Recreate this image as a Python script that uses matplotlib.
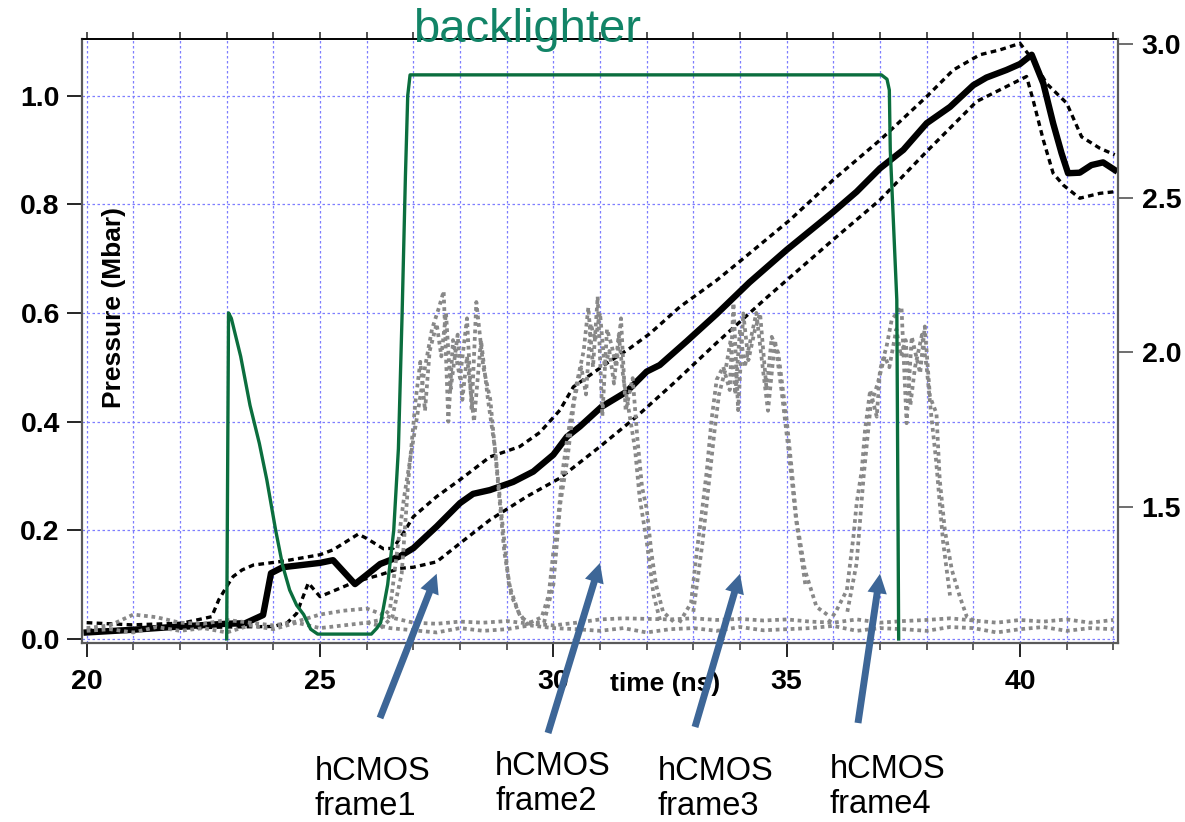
import matplotlib
matplotlib.use("Agg")
import matplotlib.pyplot as plt
from matplotlib.ticker import MultipleLocator, FixedLocator, FormatStrFormatter, NullFormatter

plt.rcParams['font.family'] = ['Liberation Sans', 'DejaVu Sans']

# ---------------- data ----------------
# pressure history (Mbar) vs time (ns)
p_time = [20.0, 21.0, 22.0, 23.0, 23.4, 23.78, 23.95, 24.2, 25.0, 25.28, 25.75, 26.0,
          26.29, 26.71, 27.0, 27.5, 28.0, 28.28, 28.64, 29.14, 29.57, 30.0, 30.29,
          30.57, 31.03, 31.57, 32.0, 32.28, 32.86, 33.5, 34.2, 35.0, 36.0, 36.5,
          37.0, 37.5, 38.0, 38.5, 39.0, 39.28, 39.71, 40.0, 40.25, 40.5, 40.71,
          40.89, 41.03, 41.28, 41.53, 41.78, 42.03]
p_mean = [0.012, 0.017, 0.023, 0.028, 0.029, 0.044, 0.121, 0.132, 0.140, 0.145, 0.101, 0.118,
          0.138, 0.152, 0.167, 0.207, 0.250, 0.267, 0.274, 0.289, 0.308, 0.339, 0.372,
          0.391, 0.427, 0.455, 0.492, 0.504, 0.548, 0.598, 0.656, 0.716, 0.786, 0.823,
          0.866, 0.900, 0.949, 0.979, 1.019, 1.033, 1.047, 1.058, 1.075, 1.022, 0.949,
          0.894, 0.857, 0.858, 0.872, 0.877, 0.863]

up_time = [20.0, 20.97, 22.04, 22.68, 22.83, 23.04, 23.14, 23.33, 23.57, 24.2, 25.0, 25.28,
           25.82, 26.0, 26.36, 26.57, 26.78, 27.0, 27.5, 28.0, 28.64, 29.28, 29.71,
           30.14, 30.43, 31.14, 31.64, 32.07, 32.71, 33.5, 34.07, 35.07, 36.0, 37.0,
           38.0, 38.57, 39.14, 39.57, 40.0, 40.28, 40.57, 41.0, 41.32, 41.71, 42.03]
p_upper = [0.030, 0.026, 0.029, 0.041, 0.072, 0.102, 0.115, 0.127, 0.136, 0.143, 0.155, 0.164,
           0.193, 0.185, 0.166, 0.167, 0.194, 0.225, 0.262, 0.293, 0.335, 0.354, 0.380,
           0.421, 0.464, 0.507, 0.535, 0.562, 0.611, 0.660, 0.700, 0.771, 0.845, 0.918,
           0.998, 1.047, 1.075, 1.084, 1.096, 1.065, 1.022, 0.986, 0.924, 0.903, 0.891]

lo_time = [20.0, 21.0, 22.0, 23.0, 24.0, 24.3, 24.5, 24.75, 25.0, 25.75, 26.29, 26.71,
           27.0, 27.5, 28.0, 28.64, 29.43, 30.14, 31.0, 31.78, 32.57, 33.5, 34.57,
           36.0, 37.0, 38.0, 39.07, 40.14, 40.28, 40.5, 40.71, 40.93, 41.28, 41.71, 42.03]
p_lower = [0.016, 0.018, 0.020, 0.022, 0.023, 0.030, 0.047, 0.103, 0.078, 0.105, 0.118, 0.130,
           0.132, 0.142, 0.176, 0.219, 0.262, 0.296, 0.354, 0.409, 0.470, 0.545, 0.628,
           0.735, 0.808, 0.897, 0.989, 1.035, 0.992, 0.918, 0.857, 0.835, 0.811, 0.820, 0.823]

# backlighter pulse
bl_time = [23.0, 23.04, 23.1, 23.3, 23.5, 23.7, 23.86, 24.05, 24.2, 24.35, 24.5, 24.65,
           24.8, 24.95, 26.1, 26.22, 26.3, 26.45, 26.58, 26.68, 26.76, 26.83, 26.88,
           26.93, 37.03, 37.15, 37.2, 37.22, 37.36, 37.4]
bl_level = [0.0, 0.60, 0.59, 0.52, 0.43, 0.36, 0.293, 0.20, 0.135, 0.090, 0.062, 0.045,
            0.018, 0.009, 0.009, 0.02, 0.03, 0.10, 0.20, 0.35, 0.60, 0.85, 1.0,
            1.038, 1.038, 1.030, 1.010, 0.90, 0.624, 0.0]

# hCMOS frame signals
f1a_t = [26.0, 26.3, 26.5, 26.65, 26.8, 26.95, 27.1, 27.25, 27.4, 27.55, 27.65, 27.75, 27.85,
         28.0, 28.15, 28.25, 28.35, 28.5, 28.65, 28.8, 28.95, 29.1, 29.3, 29.5, 29.8]
f1a_v = [0.03, 0.035, 0.055, 0.16, 0.26, 0.34, 0.42, 0.50, 0.57, 0.61, 0.64, 0.40, 0.55,
         0.48, 0.59, 0.42, 0.62, 0.50, 0.44, 0.30, 0.16, 0.08, 0.04, 0.03, 0.03]
f1b_t = [26.3, 26.55, 26.75, 26.9, 27.05, 27.15, 27.25, 27.35, 27.5, 27.6, 27.7, 27.8, 27.95,
         28.05, 28.15, 28.3, 28.45, 28.6, 28.75, 28.9, 29.05, 29.25, 29.5]
f1b_v = [0.02, 0.04, 0.12, 0.30, 0.44, 0.51, 0.42, 0.53, 0.58, 0.52, 0.60, 0.46, 0.56,
         0.44, 0.52, 0.40, 0.55, 0.44, 0.35, 0.22, 0.10, 0.05, 0.02]

f2a_t = [29.5, 29.75, 29.9, 30.0, 30.1, 30.2, 30.3, 30.4, 30.5, 30.65, 30.75, 30.85, 30.95,
         31.05, 31.15, 31.25, 31.35, 31.45, 31.55, 31.7, 31.8, 31.9, 32.0, 32.1, 32.2,
         32.35, 32.6]
f2a_v = [0.03, 0.04, 0.08, 0.16, 0.22, 0.31, 0.37, 0.42, 0.47, 0.53, 0.61, 0.50, 0.63,
         0.41, 0.57, 0.54, 0.50, 0.59, 0.42, 0.48, 0.37, 0.28, 0.24, 0.16, 0.10,
         0.05, 0.03]
f2b_t = [29.8, 30.0, 30.15, 30.3, 30.45, 30.6, 30.7, 30.8, 30.9, 31.0, 31.1, 31.2, 31.3,
         31.4, 31.5, 31.6, 31.75, 31.85, 32.0, 32.15, 32.3]
f2b_v = [0.03, 0.10, 0.25, 0.33, 0.44, 0.50, 0.45, 0.58, 0.55, 0.60, 0.50, 0.53, 0.47,
         0.56, 0.48, 0.43, 0.35, 0.26, 0.18, 0.08, 0.03]

f3a_t = [32.7, 32.95, 33.07, 33.18, 33.29, 33.39, 33.5, 33.64, 33.78, 33.86, 33.96, 34.07,
         34.18, 34.32, 34.43, 34.57, 34.68, 34.82, 35.0, 35.11, 35.21, 35.39, 35.64, 35.93]
f3a_v = [0.03, 0.066, 0.158, 0.231, 0.311, 0.403, 0.477, 0.501, 0.458, 0.618, 0.421, 0.599,
         0.513, 0.569, 0.599, 0.458, 0.556, 0.526, 0.403, 0.311, 0.219, 0.127, 0.059, 0.041]
f3b_t = [33.0, 33.2, 33.35, 33.45, 33.55, 33.7, 33.8, 33.9, 34.0, 34.1, 34.2, 34.35, 34.5,
         34.6, 34.75, 34.9, 35.05, 35.2, 35.4]
f3b_v = [0.05, 0.18, 0.30, 0.38, 0.45, 0.50, 0.55, 0.45, 0.57, 0.50, 0.54, 0.60, 0.49,
         0.42, 0.55, 0.45, 0.34, 0.22, 0.10]

f4a_t = [35.9, 36.07, 36.29, 36.43, 36.5, 36.61, 36.68, 36.79, 36.93, 37.0, 37.14, 37.25,
         37.46, 37.57, 37.68, 37.86, 37.96, 38.07, 38.21, 38.28, 38.39, 38.54, 38.71,
         38.86, 39.1]
f4a_v = [0.03, 0.053, 0.09, 0.188, 0.25, 0.311, 0.385, 0.458, 0.409, 0.495, 0.538, 0.587,
         0.611, 0.397, 0.556, 0.489, 0.575, 0.446, 0.415, 0.293, 0.20, 0.127, 0.078,
         0.041, 0.03]
f4b_t = [36.3, 36.5, 36.65, 36.8, 36.95, 37.1, 37.2, 37.35, 37.45, 37.55, 37.65, 37.75,
         37.9, 38.0, 38.1, 38.2, 38.35, 38.5]
f4b_v = [0.05, 0.14, 0.30, 0.43, 0.47, 0.52, 0.50, 0.57, 0.52, 0.55, 0.43, 0.50,
         0.56, 0.50, 0.41, 0.33, 0.18, 0.08]

# background level of the frame signals
bg_time = [20.0, 20.5, 21.0, 21.5, 22.0, 22.5, 23.0, 23.5, 24.0, 24.5, 25.0, 25.5, 26.0,
           26.5, 27.0, 27.5, 28.0, 28.5, 29.0, 29.5, 30.0, 30.5, 31.0, 31.5, 32.0, 32.5,
           33.0, 33.5, 34.0, 34.5, 35.0, 35.5, 36.0, 36.5, 37.0, 37.5, 38.0, 38.5, 39.0,
           39.5, 40.0, 40.5, 41.0, 41.5, 42.0]
bg_a = [0.020, 0.025, 0.045, 0.040, 0.030, 0.028, 0.035, 0.030, 0.025, 0.032, 0.045, 0.052,
        0.056, 0.040, 0.030, 0.028, 0.032, 0.030, 0.033, 0.028, 0.025, 0.030, 0.036, 0.038,
        0.037, 0.036, 0.038, 0.035, 0.037, 0.034, 0.036, 0.032, 0.030, 0.036, 0.030, 0.033,
        0.035, 0.038, 0.034, 0.030, 0.035, 0.032, 0.036, 0.030, 0.035]
bg_b = [0.015, 0.018, 0.012, 0.022, 0.015, 0.020, 0.012, 0.025, 0.018, 0.030, 0.020, 0.025,
        0.030, 0.020, 0.016, 0.012, 0.020, 0.015, 0.018, 0.025, 0.020, 0.018, 0.015, 0.020,
        0.012, 0.018, 0.020, 0.015, 0.022, 0.016, 0.018, 0.020, 0.024, 0.015, 0.020, 0.018,
        0.015, 0.022, 0.020, 0.012, 0.018, 0.022, 0.015, 0.020, 0.018]

# camera frame timing (ns) and arrow tip heights
frame_times = [27.5, 31.0, 34.0, 37.0]
frame_tip_levels = [0.12, 0.14, 0.12, 0.12]
frame_names = ["frame1", "frame2", "frame3", "frame4"]

left_ticks = [0.0, 0.2, 0.4, 0.6, 0.8, 1.0]
right_ticks = [1.5, 2.0, 2.5, 3.0]
time_ticks = [20, 25, 30, 35, 40]

# ---------------- figure ----------------
W, H = 1185, 822
fig = plt.figure(figsize=(W / 100, H / 100), dpi=100)
ax = fig.add_axes([82 / W, 1 - 643 / H, (1118 - 82) / W, (643 - 39) / H])
ax.set_xlim(19.9, 42.1)
ax.set_ylim(-0.0074, 1.104)

grid_kw = dict(color='#7d7dff', linewidth=0.9, linestyle=(0, (2, 2)))
ax.xaxis.set_major_locator(FixedLocator(time_ticks))
ax.xaxis.set_minor_locator(MultipleLocator(1))
ax.yaxis.set_major_locator(FixedLocator(left_ticks))
ax.grid(which='both', axis='x', **grid_kw)
ax.grid(which='major', axis='y', **grid_kw)
ax.set_axisbelow(True)

black_dash = (0, (1.7, 1.3))
gray_dot = (0, (1.0, 1.0))
gray = '#888888'

ax.plot(up_time, p_upper, color='black', lw=2.4, linestyle=black_dash, zorder=2)
ax.plot(lo_time, p_lower, color='black', lw=2.4, linestyle=black_dash, zorder=2)
ax.plot(p_time, p_mean, color='black', lw=4.6, solid_joinstyle='round', zorder=2.2)

for tt, vv in [(bg_time, bg_a), (bg_time, bg_b),
               (f1a_t, f1a_v), (f1b_t, f1b_v), (f2a_t, f2a_v), (f2b_t, f2b_v),
               (f3a_t, f3a_v), (f3b_t, f3b_v), (f4a_t, f4a_v), (f4b_t, f4b_v)]:
    ax.plot(tt, vv, color=gray, lw=2.7, linestyle=gray_dot, zorder=3)

ax.plot(bl_time, bl_level, color='#0b6e3e', lw=2.4, zorder=4)

# axis styling
for side in ('left', 'bottom'):
    ax.spines[side].set_color('#5a5a5a')
    ax.spines[side].set_linewidth(1.6)
ax.spines['top'].set_color('black')
ax.spines['top'].set_linewidth(1.2)
ax.spines['right'].set_visible(False)

ax.yaxis.set_major_formatter(FormatStrFormatter('%.1f'))
ax.tick_params(axis='y', which='major', direction='out', length=11, width=1.2,
               color='black', labelsize=20.5, pad=5)
ax.tick_params(axis='x', which='major', direction='out', length=10, width=1.2,
               color='black', labelsize=20.5, pad=9)
ax.tick_params(axis='x', which='minor', direction='out', length=5, width=1.2,
               color='#444444')
for lab in ax.get_xticklabels() + ax.get_yticklabels():
    lab.set_fontweight('bold')

top = ax.secondary_xaxis('top')
top.xaxis.set_major_locator(MultipleLocator(1))
top.xaxis.set_major_formatter(NullFormatter())
top.tick_params(direction='out', length=5, width=1.2, color='#333333')
top.spines['top'].set_linewidth(1.2)

ax.set_xlabel('time (ns)', fontsize=19, fontweight='bold')
ax.xaxis.set_label_coords(0.5627, -0.068)
ax.xaxis.label.set_va('center')
ax.set_ylabel('Pressure (Mbar)', fontsize=19, fontweight='bold')
ax.yaxis.set_label_coords(0.031, 0.556)
ax.yaxis.label.set_va('center')

# right-hand scale
ax2 = ax.twinx()
ax2.set_ylim(1.0586, 3.0152)
ax2.yaxis.set_major_locator(FixedLocator(right_ticks))
ax2.yaxis.set_major_formatter(FormatStrFormatter('%.1f'))
ax2.tick_params(axis='y', direction='out', length=11, width=1.2, color='#555555',
                labelsize=20.5, pad=6)
for lab in ax2.get_yticklabels():
    lab.set_fontweight('bold')
for side in ('left', 'top', 'bottom'):
    ax2.spines[side].set_visible(False)
ax2.spines['right'].set_color('#5a5a5a')
ax2.spines['right'].set_linewidth(1.6)

# annotations
fig.text(413 / W, 1 - 41.7 / H, 'backlighter', fontsize=34, color='#128467',
         ha='left', va='baseline')

arrow_tails = [(380, 718), (548, 733), (695, 727), (858, 723)]
label_spots = [(315, 780), (495, 775), (658, 780), (830, 778)]
for t, v, (px, py) in zip(frame_times, frame_tip_levels, arrow_tails):
    ax2.annotate('', xy=(t, v), xycoords=ax.transData,
                 xytext=(px, H - py), textcoords='figure pixels',
                 arrowprops=dict(arrowstyle='simple,head_length=1.4,head_width=1.4,tail_width=0.5',
                                 mutation_scale=10, color='#3d6697', lw=0,
                                 shrinkA=0, shrinkB=0),
                 annotation_clip=False)
for name, (lx, ly) in zip(frame_names, label_spots):
    fig.text(lx / W, 1 - ly / H, 'hCMOS', fontsize=23.5, ha='left', va='baseline')
    fig.text(lx / W, 1 - (ly + 35) / H, name, fontsize=23.5, ha='left', va='baseline')

fig.savefig('out.png', dpi=100)
